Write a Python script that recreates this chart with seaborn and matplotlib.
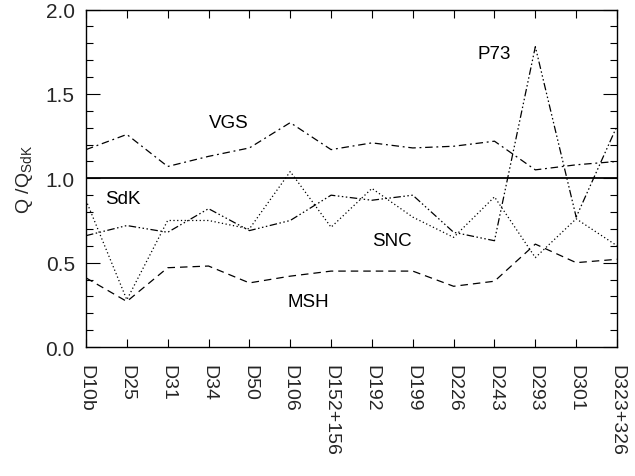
import matplotlib
matplotlib.use("Agg")

import matplotlib.pyplot as plt
from matplotlib.ticker import MultipleLocator
import pandas as pd
import seaborn as sns


stars = ["D10b", "D25", "D31", "D34", "D50", "D106", "D152+156", "D192",
         "D199", "D226", "D243", "D293", "D301", "D323+326"]

vgs = [1.17, 1.26, 1.07, 1.13, 1.18, 1.33, 1.17, 1.21, 1.18, 1.19, 1.22, 1.05, 1.08, 1.10]
sdk = [1.0] * len(stars)
p73 = [0.66, 0.72, 0.68, 0.82, 0.69, 0.75, 0.90, 0.87, 0.90, 0.68, 0.63, 1.78, 0.77, 1.31]
snc = [0.87, 0.28, 0.75, 0.75, 0.70, 1.04, 0.71, 0.94, 0.77, 0.65, 0.89, 0.53, 0.76, 0.60]
msh = [0.41, 0.27, 0.47, 0.48, 0.38, 0.42, 0.45, 0.45, 0.45, 0.36, 0.39, 0.61, 0.50, 0.52]

series = {"VGS": vgs, "SdK": sdk, "P73": p73, "SNC": snc, "MSH": msh}
styles = {
    "VGS": (0, (6, 3, 1.5, 3)),
    "SdK": "-",
    "P73": (0, (6, 2, 1.2, 2, 1.2, 2, 1.2, 2)),
    "SNC": (0, (1, 2)),
    "MSH": (0, (6, 4)),
}
# label positions (index, value)
label_pos = {"VGS": (3.5, 1.33), "SdK": (0.9, 0.88), "P73": (10.0, 1.74),
             "SNC": (7.5, 0.63), "MSH": (5.45, 0.27)}

sns.set_theme(style="ticks")
plt.rcParams["font.family"] = ["Liberation Sans", "DejaVu Sans"]
plt.rcParams["mathtext.fontset"] = "custom"
plt.rcParams["mathtext.rm"] = "Liberation Sans"

df = pd.DataFrame({"star": stars, **series})
df["pos"] = range(len(stars))

fig = plt.figure(figsize=(6.35, 4.77), dpi=100)
ax = fig.add_axes([0.1354, 0.2704, 0.8363, 0.7074])

for name in series:
    lw = 1.3 if name == "SdK" else 0.9
    sns.lineplot(data=df, x="pos", y=name, ax=ax, color="black",
                 linewidth=lw, linestyle=styles[name], legend=False)
    x, y = label_pos[name]
    ax.text(x, y, name, fontsize=13.5, ha="center", va="center", color="black")

ax.set_xlim(0, len(stars) - 1)
ax.set_ylim(0, 2.0)
ax.set_xticks(df["pos"])
ax.set_xticklabels(stars, rotation=-90, fontsize=14, va="top", ha="center")
ax.yaxis.set_major_locator(MultipleLocator(0.5))
ax.yaxis.set_minor_locator(MultipleLocator(0.1))
ax.yaxis.set_major_formatter(plt.FormatStrFormatter("%.1f"))
ax.tick_params(axis="y", labelsize=15)
ax.tick_params(which="both", direction="in", top=True, right=True, color="black")
ax.tick_params(axis="x", which="major", length=6, width=0.8, pad=12)
ax.tick_params(axis="y", which="major", length=10, width=0.8, pad=8)
ax.tick_params(axis="y", which="minor", length=5, width=0.8)
ax.set_xlabel("")
ax.set_ylabel(r"Q /Q$_{\rm SdK}$", fontsize=14, labelpad=8)
for sp in ax.spines.values():
    sp.set_linewidth(1.0)
    sp.set_color("black")

fig.savefig("out.png", dpi=100)
